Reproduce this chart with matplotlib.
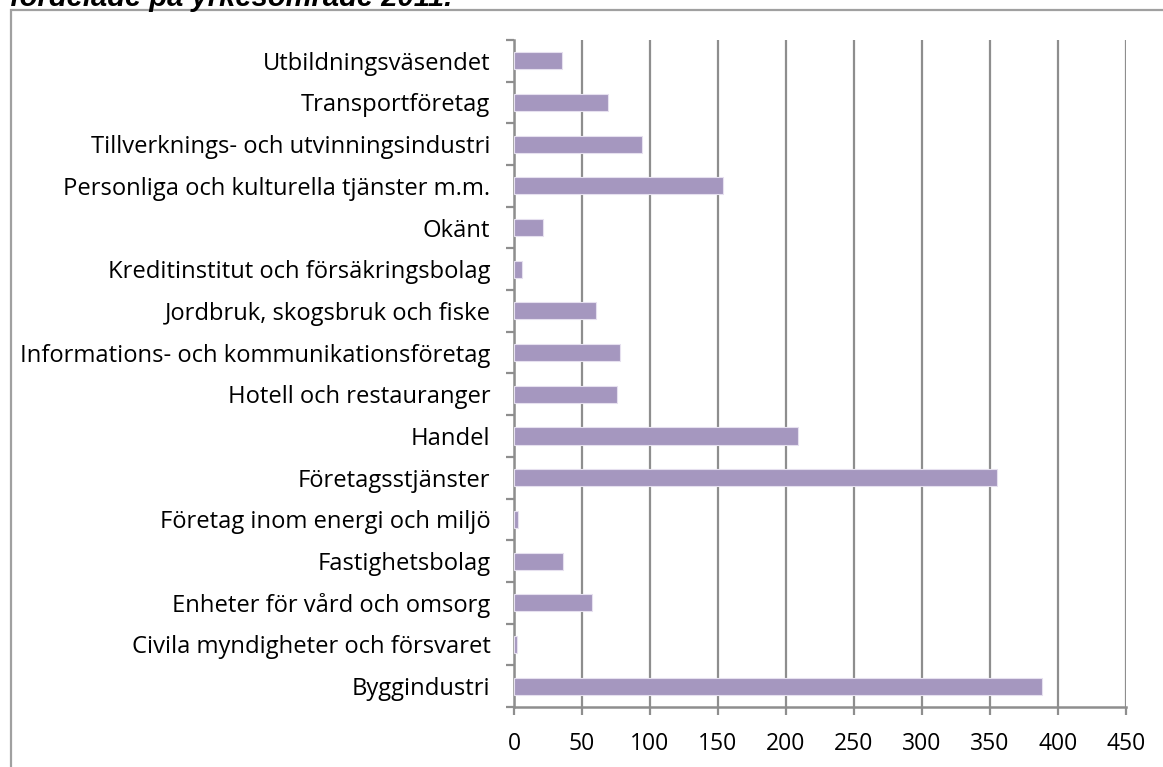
import numpy as np
import matplotlib.pyplot as plt
from matplotlib.patches import Rectangle

# Kategorier nerifrån och upp, som i diagrammet
kategorier = [
    "Byggindustri",
    "Civila myndigheter och försvaret",
    "Enheter för vård och omsorg",
    "Fastighetsbolag",
    "Företag inom energi och miljö",
    "Företagsstjänster",
    "Handel",
    "Hotell och restauranger",
    "Informations- och kommunikationsföretag",
    "Jordbruk, skogsbruk och fiske",
    "Kreditinstitut och försäkringsbolag",
    "Okänt",
    "Personliga och kulturella tjänster m.m.",
    "Tillverknings- och utvinningsindustri",
    "Transportföretag",
    "Utbildningsväsendet",
]
antal = [388, 2, 57, 36, 3, 355, 209, 76, 78, 60, 6, 21, 154, 94, 69, 35]
x_ticks = [0, 50, 100, 150, 200, 250, 300, 350, 400, 450]

titel = "fördelade på yrkesområde 2011."

plt.rcParams["font.family"] = ["Open Sans", "DejaVu Sans"]

fig = plt.figure(figsize=(11.63, 7.67), dpi=100)
ax = fig.add_axes([0.442, 0.0782, 0.968 - 0.442, 0.948 - 0.0782])

grey = "#8E8E8E"
y = np.arange(len(kategorier))
ax.barh(y, antal, height=0.41, color="#A597BF", edgecolor="#E6E0EF",
        linewidth=0.8, zorder=3)

ax.set_xlim(0, 450)
ax.set_ylim(-0.5, len(kategorier) - 0.5)
ax.set_xticks(x_ticks)
ax.set_xticklabels([str(v) for v in x_ticks], fontsize=16.5)
ax.set_yticks(y)
ax.set_yticklabels(kategorier, fontsize=17.1)
ax.set_yticks(np.arange(-0.5, len(kategorier)), minor=True)

ax.grid(axis="x", color=grey, linewidth=1.6, zorder=0)
ax.tick_params(axis="y", which="major", length=0, pad=17)
ax.tick_params(axis="y", which="minor", length=6, width=1.6, color=grey,
               direction="out")
ax.tick_params(axis="x", length=6, width=1.6, color=grey, direction="out",
               pad=12)

for s in ["top", "right"]:
    ax.spines[s].set_visible(False)
for s in ["left", "bottom"]:
    ax.spines[s].set_color(grey)
    ax.spines[s].set_linewidth(1.8)

# ram runt diagrammet
fig.patches.append(Rectangle((11 / 1163, -0.1), 1.1, 1.1 - 10 / 767,
                             transform=fig.transFigure, fill=False,
                             edgecolor="#A0A0A0", linewidth=1.6))

fig.text(10 / 1163, 1 - 6.5 / 767, titel, fontsize=21, fontweight="bold",
         fontstyle="italic", family=["Liberation Sans", "DejaVu Sans"],
         ha="left", va="baseline")

fig.savefig("out.png", dpi=100)
